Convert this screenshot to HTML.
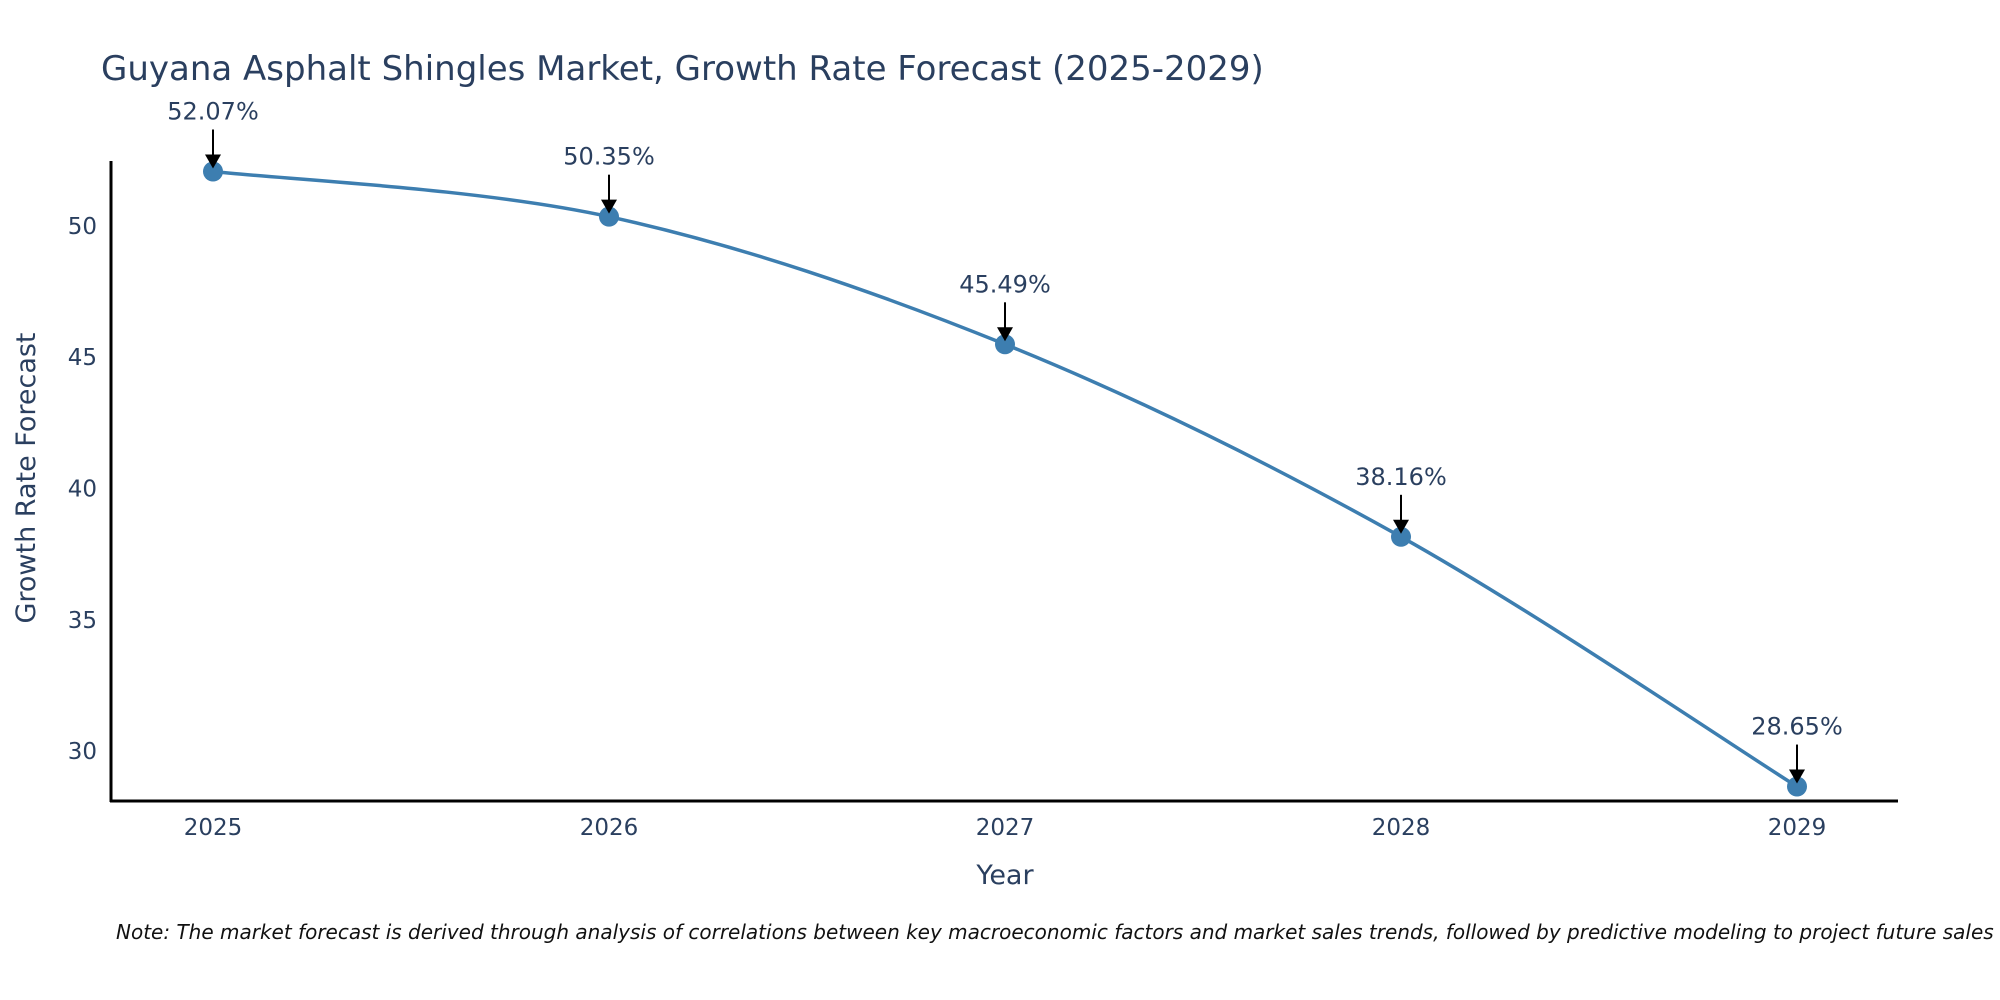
<!DOCTYPE html>
<html><head><meta charset="utf-8">
<style>
html,body{margin:0;padding:0;background:#fff;}
svg{display:block;font-family:"DejaVu Sans","Liberation Sans",sans-serif;}
</style></head>
<body>
<svg id="chart" width="2000" height="1000" viewBox="0 0 2000 1000">
<text x="101" y="80" font-size="34" fill="#2a3f5f">Guyana Asphalt Shingles Market, Growth Rate Forecast (2025-2029)</text>
<g id="axes"></g>
<g id="series"></g>
<text x="1005" y="884" font-size="27" fill="#2a3f5f" text-anchor="middle">Year</text>
<text x="0" y="0" font-size="27" fill="#2a3f5f" text-anchor="middle" transform="translate(35,478) rotate(-90)">Growth Rate Forecast</text>
<text x="116" y="939" font-size="20" font-style="italic" fill="#111">Note: The market forecast is derived through analysis of correlations between key macroeconomic factors and market sales trends, followed by predictive modeling to project future sales</text>
</svg>
<script>
const years = ["2025","2026","2027","2028","2029"];
const values = [52.07, 50.35, 45.49, 38.16, 28.65];
const labels = ["52.07%","50.35%","45.49%","38.16%","28.65%"];
const yTicks = [30, 35, 40, 45, 50];

const NS = "http://www.w3.org/2000/svg";
const X0 = 213, X1 = 1797, AX = 111, AXR = 1898, AY = 801, AT = 161;
const yMin = 28.1, yMax = 52.47;
function xs(i){ return X0 + (X1 - X0) * i / (years.length - 1); }
function ys(v){ return AY - (v - yMin) / (yMax - yMin) * (AY - AT); }
function mk(tag, attrs, parent){ const e = document.createElementNS(NS, tag); for (const k in attrs) e.setAttribute(k, attrs[k]); parent.appendChild(e); return e; }

const axes = document.getElementById('axes');
const yl = mk('line', {x1:AX, y1:AT, x2:AX, y2:AY+1, stroke:'#000', 'stroke-width':3}, axes);


const xl = mk('line', {x1:AX-1, y1:AY, x2:AXR, y2:AY, stroke:'#000', 'stroke-width':3}, axes);


yTicks.forEach(t => {
  const e = mk('text', {x:AX-14, y:ys(t)+8, 'font-size':23, fill:'#2a3f5f', 'text-anchor':'end'}, axes);
  e.textContent = t;
  
  
});
years.forEach((y, i) => {
  const e = mk('text', {x:xs(i), y:835, 'font-size':23, fill:'#2a3f5f', 'text-anchor':'middle'}, axes);
  e.textContent = y;
  
  
});

const ser = document.getElementById('series');
const pts = values.map((v, i) => [xs(i), ys(v)]);
let d = `M${pts[0][0]},${pts[0][1]}`;
const s = 0.5 / 3 * 2;
for (let i = 0; i < pts.length - 1; i++) {
  const p0 = pts[Math.max(0, i-1)], p1 = pts[i], p2 = pts[i+1], p3 = pts[Math.min(pts.length-1, i+2)];
  const c1 = [p1[0] + (p2[0]-p0[0])*s/2, p1[1] + (p2[1]-p0[1])*s/2];
  const c2 = [p2[0] - (p3[0]-p1[0])*s/2, p2[1] - (p3[1]-p1[1])*s/2];
  d += ` C${c1[0]},${c1[1]} ${c2[0]},${c2[1]} ${p2[0]},${p2[1]}`;
}
const line = mk('path', {d:d, fill:'none', stroke:'#3d7eb0', 'stroke-width':3.5}, ser);


pts.forEach((p, i) => {
  const c = mk('circle', {cx:p[0], cy:p[1], r:10, fill:'#3d7eb0'}, ser);
  
  
  const a = mk('line', {x1:p[0], y1:p[1]-42, x2:p[0], y2:p[1]-14, stroke:'#000', 'stroke-width':2}, ser);
  
  
  const h = mk('polygon', {points:`${p[0]-8},${p[1]-17} ${p[0]+8},${p[1]-17} ${p[0]},${p[1]-3}`, fill:'#000'}, ser);
  
  
  const t = mk('text', {x:p[0], y:p[1]-52, 'font-size':24, fill:'#2a3f5f', 'text-anchor':'middle'}, ser);
  t.textContent = labels[i];
  
  
});
</script>
</body></html>
